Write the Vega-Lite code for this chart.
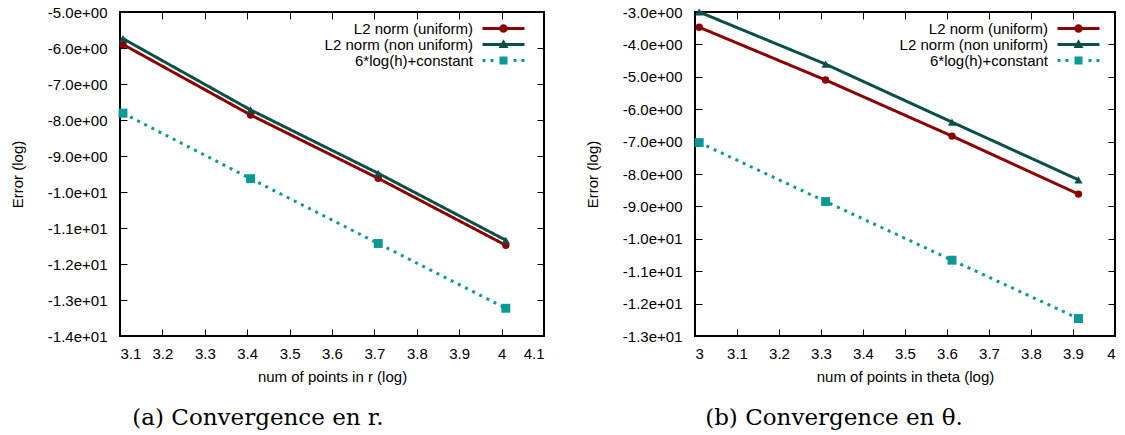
{
  "$schema": "https://vega.github.io/schema/vega-lite/v6.json",
  "padding": {"top": 4, "left": 9, "right": 8, "bottom": 0},
  "spacing": 38,
  "datasets": {
    "a": [
      {"x": 3.107, "y": -5.90, "series": "L2 norm (uniform)"},
      {"x": 3.408, "y": -7.86, "series": "L2 norm (uniform)"},
      {"x": 3.709, "y": -9.62, "series": "L2 norm (uniform)"},
      {"x": 4.010, "y": -11.48, "series": "L2 norm (uniform)"},
      {"x": 3.107, "y": -5.74, "series": "L2 norm (non uniform)"},
      {"x": 3.408, "y": -7.72, "series": "L2 norm (non uniform)"},
      {"x": 3.709, "y": -9.48, "series": "L2 norm (non uniform)"},
      {"x": 4.010, "y": -11.34, "series": "L2 norm (non uniform)"},
      {"x": 3.107, "y": -7.81, "series": "6*log(h)+constant"},
      {"x": 3.408, "y": -9.63, "series": "6*log(h)+constant"},
      {"x": 3.709, "y": -11.43, "series": "6*log(h)+constant"},
      {"x": 4.010, "y": -13.23, "series": "6*log(h)+constant"}
    ],
    "b": [
      {"x": 3.010, "y": -3.47, "series": "L2 norm (uniform)"},
      {"x": 3.311, "y": -5.10, "series": "L2 norm (uniform)"},
      {"x": 3.612, "y": -6.83, "series": "L2 norm (uniform)"},
      {"x": 3.913, "y": -8.62, "series": "L2 norm (uniform)"},
      {"x": 3.010, "y": -3.00, "series": "L2 norm (non uniform)"},
      {"x": 3.311, "y": -4.61, "series": "L2 norm (non uniform)"},
      {"x": 3.612, "y": -6.40, "series": "L2 norm (non uniform)"},
      {"x": 3.913, "y": -8.18, "series": "L2 norm (non uniform)"},
      {"x": 3.010, "y": -7.03, "series": "6*log(h)+constant"},
      {"x": 3.311, "y": -8.85, "series": "6*log(h)+constant"},
      {"x": 3.612, "y": -10.66, "series": "6*log(h)+constant"},
      {"x": 3.913, "y": -12.46, "series": "6*log(h)+constant"}
    ]
  },
  "config": {
    "view": {"stroke": "black", "strokeWidth": 2},
    "font": "Liberation Sans",
    "axis": {
      "grid": false,
      "domain": false,
      "labelFont": "Liberation Sans",
      "labelFontSize": 15,
      "labelColor": "black",
      "titleFont": "Liberation Sans",
      "titleFontSize": 15,
      "titleFontWeight": "normal",
      "titleColor": "black",
      "tickColor": "black",
      "tickWidth": 1,
      "tickSize": -7,
      "labelPadding": 17
    },
    "axisX": {"titlePadding": 8},
    "axisY": {"titlePadding": 22, "labelPadding": 20},
    "title": {"font": "DejaVu Serif", "fontSize": 23, "fontWeight": "normal", "color": "black", "orient": "bottom", "anchor": "middle", "frame": "group", "offset": 23},
    "legend": {
      "orient": "none",
      "legendX": 376,
      "legendY": 9,
      "title": null,
      "labelFont": "Liberation Sans",
      "labelFontSize": 15,
      "labelColor": "black",
      "labelAlign": "right",
      "labelOffset": -38,
      "symbolSize": 100,
      "rowPadding": -2.5,
      "padding": 0
    }
  },
  "resolve": {"scale": {"x": "independent", "y": "independent", "color": "independent", "shape": "independent", "strokeDash": "independent", "size": "independent"}, "legend": {"color": "independent", "shape": "independent"}},
  "hconcat": [
    {
      "width": 424,
      "height": 324,
      "data": {"name": "a"},
      "title": {"text": "(a) Convergence en r.", "dx": -74},
      "layer": [
        {
          "mark": {"type": "line", "strokeWidth": 3, "strokeCap": "butt"},
          "encoding": {
            "x": {"field": "x", "type": "quantitative", "scale": {"domain": [3.1, 4.1], "nice": false, "zero": false},
                  "axis": {"title": "num of points in r (log)", "values": [3.1, 3.2, 3.3, 3.4, 3.5, 3.6, 3.7, 3.8, 3.9, 4.0, 4.1], "format": "~g"}},
            "y": {"field": "y", "type": "quantitative", "scale": {"domain": [-14, -5], "nice": false, "zero": false},
                  "axis": {"title": "Error (log)", "values": [-14, -13, -12, -11, -10, -9, -8, -7, -6, -5],
                           "labelExpr": "datum.value <= -10 ? '-' + format(-datum.value / 10, '.1f') + 'e+01' : '-' + format(-datum.value, '.1f') + 'e+00'"}},
            "color": {"field": "series", "type": "nominal",
                      "scale": {"domain": ["L2 norm (uniform)", "L2 norm (non uniform)", "6*log(h)+constant"], "range": ["#8b0000", "#0b4f4a", "#0a9a96"]},
                      "legend": null},
            "strokeDash": {"field": "series", "type": "nominal",
                           "scale": {"domain": ["L2 norm (uniform)", "L2 norm (non uniform)", "6*log(h)+constant"], "range": [[1, 0], [1, 0], [3, 5]]},
                           "legend": null}
          }
        },
        {
          "mark": {"type": "point", "filled": true, "opacity": 1},
          "encoding": {
            "x": {"field": "x", "type": "quantitative", "axis": {"orient": "top", "labels": false, "title": null, "values": [3.1, 3.2, 3.3, 3.4, 3.5, 3.6, 3.7, 3.8, 3.9, 4.0, 4.1]}},
            "y": {"field": "y", "type": "quantitative", "axis": {"orient": "right", "labels": false, "title": null, "values": [-14, -13, -12, -11, -10, -9, -8, -7, -6, -5]}},
            "color": {"field": "series", "type": "nominal",
                      "scale": {"domain": ["L2 norm (uniform)", "L2 norm (non uniform)", "6*log(h)+constant"], "range": ["#8b0000", "#0b4f4a", "#0a9a96"]},
                      "legend": null},
            "shape": {"field": "series", "type": "nominal",
                      "scale": {"domain": ["L2 norm (uniform)", "L2 norm (non uniform)", "6*log(h)+constant"], "range": ["circle", "triangle-up", "square"]},
                      "legend": null},
            "size": {"field": "series", "type": "nominal",
                     "scale": {"domain": ["L2 norm (uniform)", "L2 norm (non uniform)", "6*log(h)+constant"], "range": [55, 80, 75]},
                     "legend": null}
          }
        },
        {
          "transform": [{"filter": "false"}],
          "mark": {"type": "point", "filled": true, "opacity": 1, "size": 100},
          "encoding": {
            "color": {"field": "series", "type": "nominal",
                      "scale": {"domain": ["L2 norm (uniform)", "L2 norm (non uniform)", "6*log(h)+constant"], "range": ["#8b0000", "#0b4f4a", "#0a9a96"]}},
            "shape": {"field": "series", "type": "nominal",
                      "scale": {"domain": ["L2 norm (uniform)", "L2 norm (non uniform)", "6*log(h)+constant"],
                                "range": ["M-4.2,-0.3H4.2V0.3H-4.2Z M0.85,0A0.85,0.85,0,1,1,-0.85,0A0.85,0.85,0,1,1,0.85,0Z", "M-4.2,-0.3H4.2V0.3H-4.2Z M0,-1.05L1.0,0.7H-1.0Z", "M-4.2,-0.3H-3.6V0.3H-4.2Z M-2.6,-0.3H-2.0V0.3H-2.6Z M-0.8,-0.8H0.8V0.8H-0.8Z M2.0,-0.3H2.6V0.3H2.0Z M3.6,-0.3H4.2V0.3H3.6Z"]}}
          }
        }
      ],
      "resolve": {"axis": {"x": "independent", "y": "independent"}, "scale": {"color": "independent", "shape": "independent", "size": "independent"}}
    },
    {
      "width": 420,
      "height": 324,
      "data": {"name": "b"},
      "title": {"text": "(b) Convergence en θ.", "dx": -71},
      "layer": [
        {
          "mark": {"type": "line", "strokeWidth": 3, "strokeCap": "butt"},
          "encoding": {
            "x": {"field": "x", "type": "quantitative", "scale": {"domain": [3.0, 4.0], "nice": false, "zero": false},
                  "axis": {"title": "num of points in theta (log)", "values": [3.0, 3.1, 3.2, 3.3, 3.4, 3.5, 3.6, 3.7, 3.8, 3.9, 4.0], "format": "~g"}},
            "y": {"field": "y", "type": "quantitative", "scale": {"domain": [-13, -3], "nice": false, "zero": false},
                  "axis": {"title": "Error (log)", "values": [-13, -12, -11, -10, -9, -8, -7, -6, -5, -4, -3],
                           "labelExpr": "datum.value <= -10 ? '-' + format(-datum.value / 10, '.1f') + 'e+01' : '-' + format(-datum.value, '.1f') + 'e+00'"}},
            "color": {"field": "series", "type": "nominal",
                      "scale": {"domain": ["L2 norm (uniform)", "L2 norm (non uniform)", "6*log(h)+constant"], "range": ["#8b0000", "#0b4f4a", "#0a9a96"]},
                      "legend": null},
            "strokeDash": {"field": "series", "type": "nominal",
                           "scale": {"domain": ["L2 norm (uniform)", "L2 norm (non uniform)", "6*log(h)+constant"], "range": [[1, 0], [1, 0], [3, 5]]},
                           "legend": null}
          }
        },
        {
          "mark": {"type": "point", "filled": true, "opacity": 1},
          "encoding": {
            "x": {"field": "x", "type": "quantitative", "axis": {"orient": "top", "labels": false, "title": null, "values": [3.0, 3.1, 3.2, 3.3, 3.4, 3.5, 3.6, 3.7, 3.8, 3.9, 4.0]}},
            "y": {"field": "y", "type": "quantitative", "axis": {"orient": "right", "labels": false, "title": null, "values": [-13, -12, -11, -10, -9, -8, -7, -6, -5, -4, -3]}},
            "color": {"field": "series", "type": "nominal",
                      "scale": {"domain": ["L2 norm (uniform)", "L2 norm (non uniform)", "6*log(h)+constant"], "range": ["#8b0000", "#0b4f4a", "#0a9a96"]},
                      "legend": null},
            "shape": {"field": "series", "type": "nominal",
                      "scale": {"domain": ["L2 norm (uniform)", "L2 norm (non uniform)", "6*log(h)+constant"], "range": ["circle", "triangle-up", "square"]},
                      "legend": null},
            "size": {"field": "series", "type": "nominal",
                     "scale": {"domain": ["L2 norm (uniform)", "L2 norm (non uniform)", "6*log(h)+constant"], "range": [55, 80, 75]},
                     "legend": null}
          }
        },
        {
          "transform": [{"filter": "false"}],
          "mark": {"type": "point", "filled": true, "opacity": 1, "size": 100},
          "encoding": {
            "color": {"field": "series", "type": "nominal",
                      "scale": {"domain": ["L2 norm (uniform)", "L2 norm (non uniform)", "6*log(h)+constant"], "range": ["#8b0000", "#0b4f4a", "#0a9a96"]}},
            "shape": {"field": "series", "type": "nominal",
                      "scale": {"domain": ["L2 norm (uniform)", "L2 norm (non uniform)", "6*log(h)+constant"],
                                "range": ["M-4.2,-0.3H4.2V0.3H-4.2Z M0.85,0A0.85,0.85,0,1,1,-0.85,0A0.85,0.85,0,1,1,0.85,0Z", "M-4.2,-0.3H4.2V0.3H-4.2Z M0,-1.05L1.0,0.7H-1.0Z", "M-4.2,-0.3H-3.6V0.3H-4.2Z M-2.6,-0.3H-2.0V0.3H-2.6Z M-0.8,-0.8H0.8V0.8H-0.8Z M2.0,-0.3H2.6V0.3H2.0Z M3.6,-0.3H4.2V0.3H3.6Z"]}}
          }
        }
      ],
      "resolve": {"axis": {"x": "independent", "y": "independent"}, "scale": {"color": "independent", "shape": "independent", "size": "independent"}}
    }
  ]
}
